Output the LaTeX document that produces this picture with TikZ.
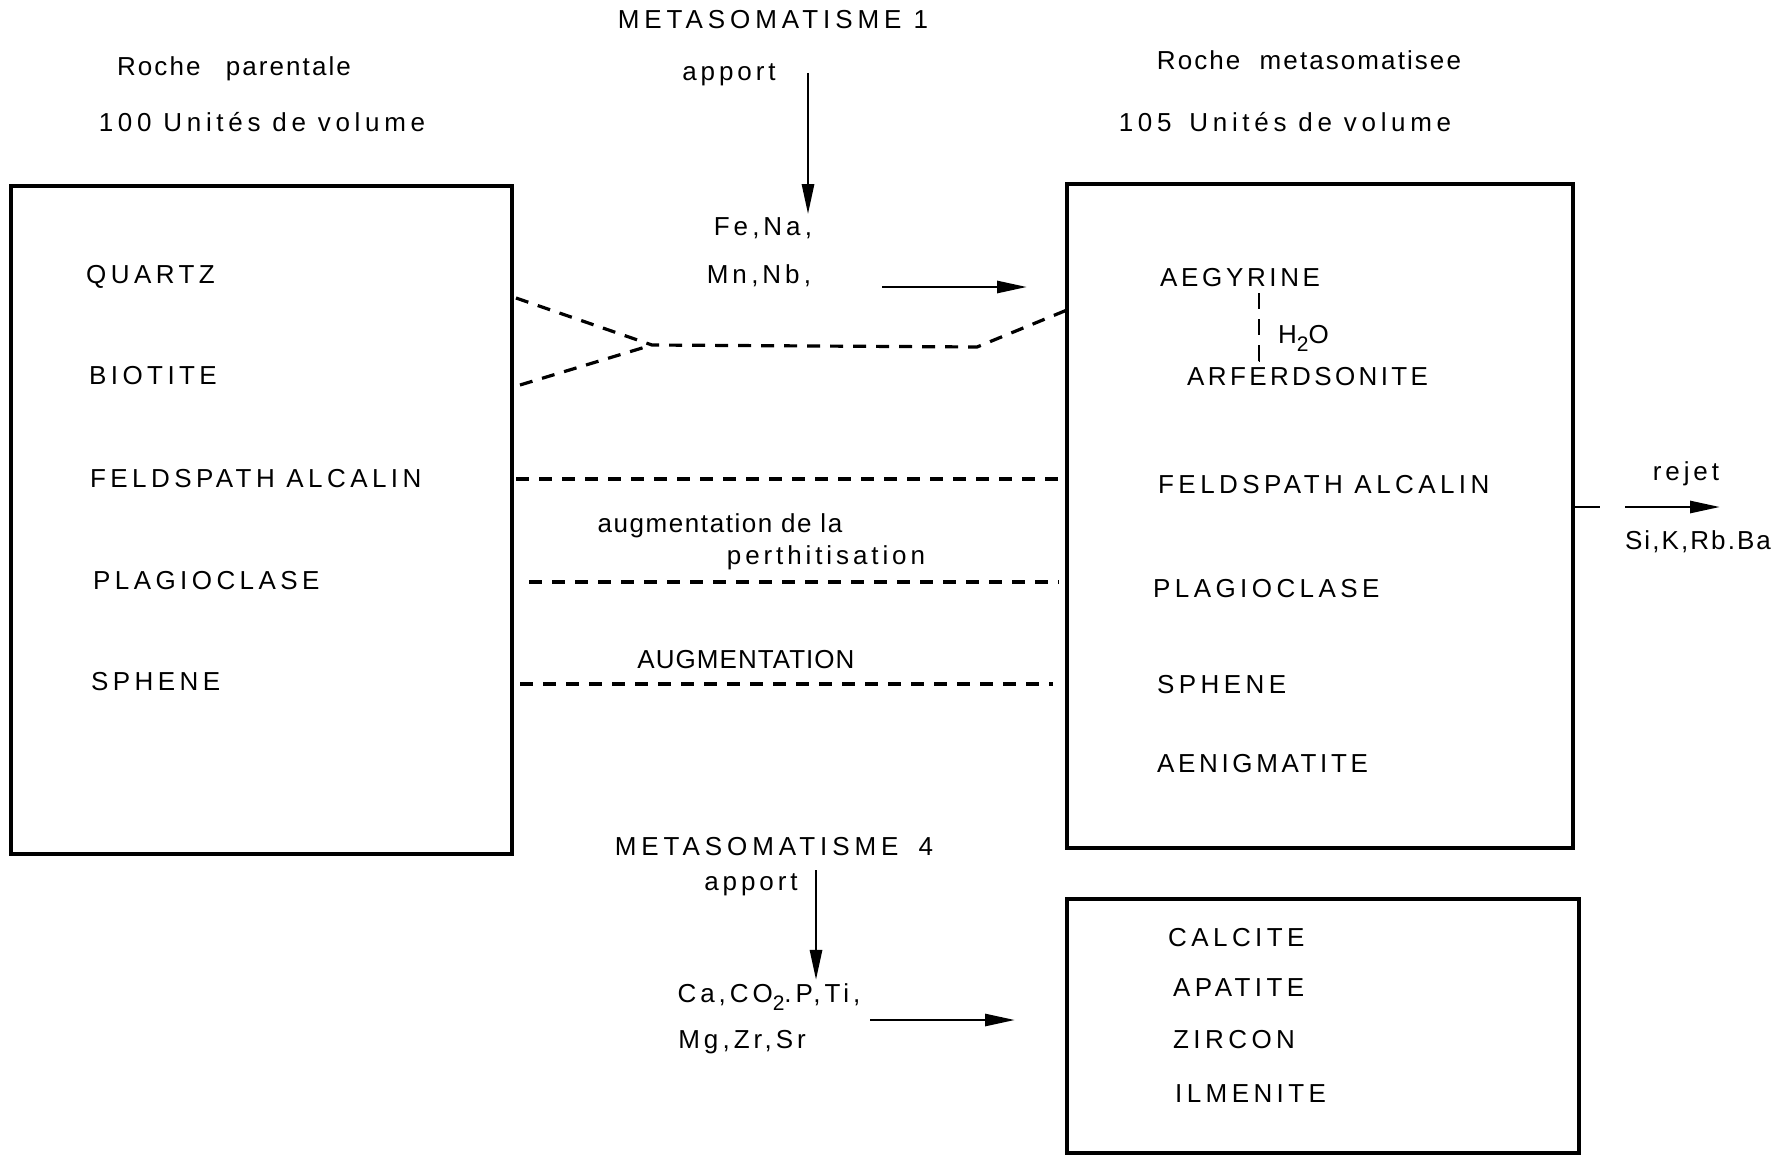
\documentclass[tikz,border=0pt]{standalone}
\usepackage{fontspec}
\setmainfont{Liberation Sans}
\usetikzlibrary{arrows.meta, calc}
\newcommand{\taille}{\fontsize{26}{30}\selectfont}
\newcommand{\indice}[1]{\raisebox{-8pt}{\fontsize{21}{21}\selectfont #1}}

\begin{document}
\begin{tikzpicture}[x=1pt, y=-1pt,
boite/.style = {draw, line width=4.5pt, anchor=north west, inner sep=0pt, outer sep=0pt},
mineral/.style = {anchor=west, inner sep=0pt, font=\taille\addfontfeature{LetterSpace=17}},
etape/.style = {inner sep=0pt, font=\taille\addfontfeature{LetterSpace=19}},
titre/.style = {inner sep=0pt, font=\taille\addfontfeature{LetterSpace=8}},
volume/.style = {inner sep=0pt, font=\taille\addfontfeature{LetterSpace=18}},
legende/.style = {inner sep=3pt, font=\taille\addfontfeature{LetterSpace=15}},
note/.style = {inner sep=0pt, font=\taille\addfontfeature{LetterSpace=6}},
liaison/.style = {line width=3.2pt, dash pattern=on 13pt off 10pt},
tirets/.style = {line width=2.6pt, dash pattern=on 16pt off 10pt},
trait/.style = {line width=2.8pt},
fleche/.style = {line width=2.8pt, -{Triangle[length=30pt, width=12pt]}}]
\useasboundingbox (0,0) rectangle (1785,1156);

% roche parentale
\node[titre] (rp) at (234,69) {Roche\hspace{16pt} parentale};
\node[volume] (vp) at (262,122) {100 Unités de volume};
\node[boite, minimum width=501pt, minimum height=668pt] (parent) at (11,186) {};
\node[mineral] (qzA) at (86,277) {QUARTZ};
\node[mineral] (btA) at (89,376) {BIOTITE};
\node[mineral] (fkA) at (90,479) {FELDSPATH ALCALIN};
\node[mineral] (plA) at (93,581) {PLAGIOCLASE};
\node[mineral] (spA) at (91,682) {SPHENE};

% roche metasomatisee
\node[titre] (rm) at (1309,60) {Roche\hspace{10pt} metasomatisee};
\node[volume] (vm) at (1285,122) {105\hspace{6pt} Unités de volume};
\node[boite, minimum width=506pt, minimum height=664pt] (meta) at (1067,184) {};
\node[mineral, font=\taille\addfontfeature{LetterSpace=14}] (aeg) at (1160,278) {AEGYRINE};
\node[mineral, anchor=base west] (h2o) at (1278,343) {H\indice{2}O};
\node[mineral, font=\taille\addfontfeature{LetterSpace=13}] (arf) at (1187,377) {ARFERDSONITE};
\node[mineral] (fkB) at (1158,485) {FELDSPATH ALCALIN};
\node[mineral] (plB) at (1153,589) {PLAGIOCLASE};
\node[mineral] (spB) at (1157,685) {SPHENE};
\node[mineral, font=\taille\addfontfeature{LetterSpace=14}] (aen) at (1157,764) {AENIGMATITE};

\node[boite, minimum width=512pt, minimum height=254pt] (residu) at (1067,899) {};
\node[mineral] (cal) at (1168,938) {CALCITE};
\node[mineral] (apa) at (1173,988) {APATITE};
\node[mineral] (zrn) at (1173,1040) {ZIRCON};
\node[mineral] (ilm) at (1175,1094) {ILMENITE};

% metasomatisme 1
\node[etape] (m1) at (773,20) {METASOMATISME 1};
\node[legende] (ap1) at (729,75) {apport};
\node[legende] (fena) at (763,228) {Fe\,,Na\,,};
\node[legende] (mnnb) at (759,276) {Mn\,,Nb\,,};
\coordinate (a1) at (808,73);
\draw[fleche] (a1) -- (a1 |- fena.north);
\coordinate (f1) at (882,287);
\draw[fleche] (f1) -- ($(f1 -| meta.west)+(-40,0)$);

% correspondances
\coordinate (qzpt) at (516,298);
\coordinate (btpt) at (520,385);
\coordinate (jonction) at (652,345);
\coordinate (coude) at (977,347);
\coordinate (aegpt) at (1067,310);
\draw[liaison] (qzpt) -- (jonction) -- (coude) -- (aegpt);
\draw[liaison] (btpt) -- (jonction);
\draw[liaison] ($(parent.east |- fkA)+(4,0)$) -- (meta.west |- fkA);
\draw[liaison] ($(parent.east |- plA)+(17,1)$) -- ($(meta.west |- plA)+(-8,1)$);
\draw[liaison] ($(parent.east |- spA)+(8,2)$) -- ($(meta.west |- spA)+(-14,2)$);
\node[note] (augm1) at (720,526) {augmentation de la};
\node[note, font=\taille\addfontfeature{LetterSpace=15}] (augm2) at (826,558) {perthitisation};
\node[note, font=\taille\addfontfeature{LetterSpace=4}] (augm3) at (746,660) {AUGMENTATION};

\coordinate (hh) at (1259,293);
\draw[tirets] (hh) -- ++(0,68) -- ++(-5,0);

% rejet
\node[legende] (rejet) at (1686,474) {rejet};
\node[legende, font=\taille\addfontfeature{LetterSpace=8}] (sikr) at (1698,542) {Si,K,Rb.Ba};
\coordinate (rj) at (1625,507);
\draw[trait] (meta.east |- rj) -- ++(27,0);
\draw[fleche] (rj) -- ++(95,0);

% metasomatisme 4
\node[etape] (m4) at (774,847) {METASOMATISME\hspace{8pt} 4};
\node[legende] (ap4) at (751,885) {apport};
\node[legende, anchor=base] (caco) at (769,1002) {Ca,CO\indice{2}.P,Ti,};
\node[legende] (mgzr) at (742,1042) {Mg\,,Zr,Sr};
\coordinate (a4) at (816,870);
\draw[fleche] (a4) -- (a4 |- caco.north);
\coordinate (f4) at (870,1020);
\draw[fleche] (f4) -- ($(f4 -| residu.west)+(-52,0)$);
\end{tikzpicture}
\end{document}
